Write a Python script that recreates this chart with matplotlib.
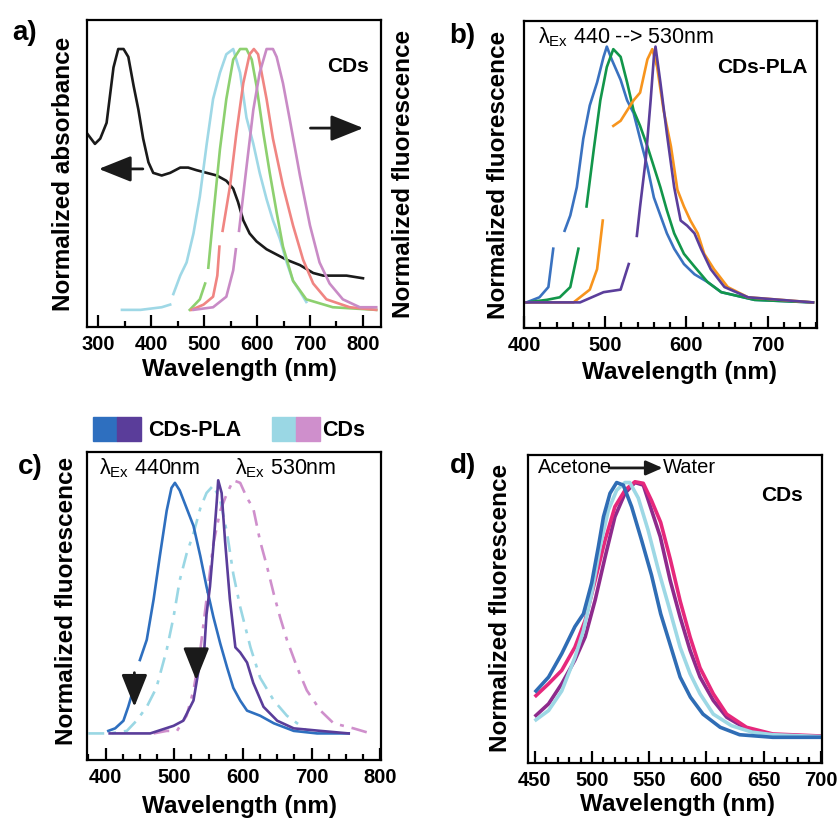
import numpy as np
import matplotlib
matplotlib.use("Agg")
import matplotlib.pyplot as plt
from matplotlib.ticker import MultipleLocator
from matplotlib.patches import Rectangle

plt.rcParams['font.family'] = ['Liberation Sans', 'DejaVu Sans']
plt.rcParams['mathtext.fontset'] = 'custom'
plt.rcParams['mathtext.rm'] = 'Liberation Sans'
plt.rcParams['mathtext.it'] = 'Liberation Sans:italic'

nan = np.nan

# ---- panel a: CDs absorbance + fluorescence
abs_nm = [279, 294, 304, 316, 329, 338, 348, 357, 367, 376, 385, 395, 404, 420, 436, 455, 470, 486,
          505, 524, 542, 555, 564, 574, 586, 599, 618, 637, 656, 681, 706, 725, 743, 769, 800]
abs_val = [0.67, 0.63, 0.65, 0.71, 0.92, 0.99, 0.99, 0.96, 0.85, 0.76, 0.65, 0.56, 0.52, 0.51, 0.52,
           0.54, 0.54, 0.53, 0.52, 0.51, 0.49, 0.46, 0.41, 0.34, 0.29, 0.26, 0.23, 0.21, 0.19, 0.17,
           0.14, 0.13, 0.13, 0.13, 0.12]

a_cyan_nm = [345, 380, 420, 436, nan, 442, 455, 467, 480, 492, 505, 517, 530, 542, 555, 568, 580,
             593, 605, 618, 630, 643, 656, 668, 681, 693]
a_cyan_val = [0.0, 0.0, 0.01, 0.02, nan, 0.06, 0.13, 0.18, 0.29, 0.43, 0.63, 0.80, 0.90, 0.97, 0.99,
              0.90, 0.73, 0.63, 0.52, 0.42, 0.34, 0.27, 0.18, 0.11, 0.07, 0.03]

a_green_nm = [473, 492, 502, nan, 508, 517, 530, 542, 555, 568, 580, 590, 599, 612, 624, 637, 649,
              668, 693, 743, 825]
a_green_val = [0.0, 0.04, 0.10, nan, 0.16, 0.35, 0.61, 0.80, 0.95, 0.99, 0.99, 0.95, 0.85, 0.67,
               0.52, 0.37, 0.24, 0.11, 0.04, 0.01, 0.0]

a_red_nm = [476, 499, 517, 525, 529, nan, 535, 549, 561, 574, 586, 594, 602, 618, 630, 649, 668, 687,
            706, 731, 775, 825]
a_red_val = [0.0, 0.02, 0.05, 0.13, 0.24, nan, 0.30, 0.47, 0.67, 0.86, 0.97, 0.99, 0.97, 0.80, 0.65,
             0.47, 0.32, 0.19, 0.10, 0.04, 0.01, 0.0]

a_mag_nm = [480, 517, 542, 555, 560, nan, 566, 580, 593, 605, 618, 630, 637, 649, 662, 681, 700, 718,
            737, 762, 794, 825]
a_mag_val = [0.0, 0.01, 0.05, 0.15, 0.23, nan, 0.30, 0.54, 0.76, 0.90, 0.99, 0.99, 0.96, 0.86, 0.72,
             0.51, 0.32, 0.18, 0.10, 0.04, 0.01, 0.01]

# ---- panel b: CDs-PLA, excitation 440 -> 530 nm
b_blue_nm = [403, 419, 430, 436, nan, 450, 457, 465, 473, 481, 490, 498, 502, 508, 519, 527, 535, 543,
             552, 560, 568, 576, 585, 597, 610, 626, 643, 684, 756]
b_blue_val = [0.0, 0.02, 0.06, 0.21, nan, 0.28, 0.34, 0.45, 0.64, 0.77, 0.86, 0.96, 1.0, 0.95, 0.87,
              0.79, 0.74, 0.64, 0.53, 0.41, 0.34, 0.27, 0.21, 0.15, 0.11, 0.08, 0.04, 0.01, 0.0]

b_green_nm = [403, 428, 444, 457, 467, nan, 477, 486, 494, 502, 510, 519, 527, 535, 543, 552, 560,
              568, 576, 585, 597, 610, 626, 643, 684, 756]
b_green_val = [0.0, 0.01, 0.02, 0.06, 0.21, nan, 0.375, 0.60, 0.79, 0.92, 0.99, 0.96, 0.86, 0.75,
               0.69, 0.61, 0.53, 0.45, 0.36, 0.27, 0.19, 0.14, 0.08, 0.04, 0.01, 0.0]

b_orange_nm = [403, 461, 469, 481, 490, 497, nan, 510, 519, 527, 535, 543, 552, 558, 564, 572, 581,
               589, 597, 605, 614, 622, 634, 651, 676, 756]
b_orange_val = [0.0, 0.0, 0.02, 0.05, 0.13, 0.32, nan, 0.69, 0.71, 0.75, 0.79, 0.82, 0.95, 0.99, 0.92,
                0.75, 0.61, 0.44, 0.375, 0.32, 0.27, 0.19, 0.13, 0.06, 0.02, 0.0]

b_purple_nm = [403, 469, 498, 519, 529, nan, 539, 543, 550, 556, 560, 562, 568, 576, 585, 593, 601,
               610, 618, 630, 647, 676, 756]
b_purple_val = [0.0, 0.0, 0.04, 0.05, 0.15, nan, 0.26, 0.375, 0.56, 0.79, 0.96, 1.0, 0.86, 0.66, 0.45,
                0.32, 0.30, 0.27, 0.21, 0.13, 0.06, 0.02, 0.0]

# ---- panel c: CDs-PLA vs CDs at 440 and 530 nm excitation
c_pla440_nm = [404, 414, 426, 433, 439, nan, 450, 460, 470, 479, 489, 496, 501, 508, 518, 528, 538,
               547, 557, 567, 577, 586, 596, 606, 625, 645, 674, 708, 754]
c_pla440_val = [0.01, 0.02, 0.05, 0.105, 0.16, nan, 0.29, 0.37, 0.53, 0.70, 0.88, 0.97, 0.99, 0.96,
                0.89, 0.82, 0.70, 0.58, 0.46, 0.355, 0.26, 0.18, 0.13, 0.09, 0.07, 0.04, 0.01, 0.0, 0.0]

c_pla530_nm = [406, 465, 499, 513, 528, 538, 543, 547, 552, 557, 562, 564, 569, 574, 581, 589, 596,
               606, 615, 630, 650, 674, 713, 754]
c_pla530_val = [0.0, 0.0, 0.03, 0.05, 0.13, 0.29, 0.30, 0.47, 0.58, 0.74, 0.92, 1.0, 0.95, 0.76, 0.53,
                0.34, 0.32, 0.28, 0.20, 0.105, 0.05, 0.02, 0.01, 0.0]

c_cd440_nm = [375, 406, 431, 445, 460, 474, 489, 499, 508, 518, 528, 538, 547, 557, 567, 577, 586,
              596, 611, 625, 645, 664, 684, 693]
c_cd440_val = [0.0, 0.0, 0.01, 0.05, 0.105, 0.18, 0.33, 0.46, 0.605, 0.71, 0.79, 0.89, 0.95, 0.98,
               0.92, 0.79, 0.63, 0.50, 0.34, 0.22, 0.13, 0.07, 0.03, 0.01]

c_cd530_nm = [470, 489, 504, 518, 528, 538, 547, 557, 567, 577, 586, 596, 606, 615, 625, 635, 645,
              654, 664, 679, 693, 713, 732, 761, 786]
c_cd530_val = [0.0, 0.01, 0.01, 0.07, 0.17, 0.33, 0.53, 0.75, 0.88, 0.95, 1.0, 0.99, 0.93, 0.89, 0.76,
               0.66, 0.55, 0.46, 0.37, 0.26, 0.17, 0.09, 0.04, 0.02, 0.0]

# ---- panel d: CDs in solvents, acetone -> water
d_nm_blue = [451, 462, 473.5, 485, 492.5, 499.7, 505.5, 510, 515.7, 521.5, 527.3, 534.6, 543.3, 552,
             560, 569, 577, 586, 597, 612, 629, 658, 700]
d_val_blue = [0.18, 0.234, 0.325, 0.43, 0.48, 0.60, 0.74, 0.857, 0.948, 0.99, 0.98, 0.896, 0.766,
              0.63, 0.48, 0.35, 0.234, 0.156, 0.09, 0.039, 0.01, 0.0, 0.0]

d_nm_pink = [451, 462, 473.5, 485, 494, 502.7, 511.4, 520, 528.8, 537.5, 544.8, 552, 560, 568.5, 577,
             585.7, 594.4, 606, 617.7, 635, 658, 700]
d_val_pink = [0.162, 0.208, 0.26, 0.35, 0.455, 0.61, 0.766, 0.896, 0.96, 0.993, 0.987, 0.92, 0.835,
              0.69, 0.53, 0.39, 0.27, 0.169, 0.09, 0.039, 0.013, 0.005]

d_nm_purple = [451, 462, 473.5, 485, 494, 502.7, 511.4, 520, 528.8, 537.5, 544.8, 551, 559.6, 568.3,
               577, 585.7, 594.4, 606, 617.7, 635, 658, 700]
d_val_purple = [0.085, 0.13, 0.208, 0.30, 0.39, 0.533, 0.70, 0.857, 0.948, 0.99, 0.98, 0.896, 0.78,
                0.61, 0.467, 0.338, 0.234, 0.143, 0.078, 0.033, 0.01, 0.003]

d_nm_cyan = [451, 462, 473.5, 485, 492.5, 499.7, 507, 514.3, 521.5, 528.8, 533, 540.4, 549, 558,
             567, 577, 585.7, 594.4, 606, 622, 640, 658, 700]
d_val_cyan = [0.068, 0.104, 0.18, 0.31, 0.415, 0.56, 0.74, 0.883, 0.96, 0.99, 0.99, 0.93, 0.805, 0.65,
              0.51, 0.35, 0.247, 0.169, 0.09, 0.045, 0.02, 0.01, 0.003]

fig = plt.figure(figsize=(8.39, 8.21), dpi=100)
axA = fig.add_axes([0.1037, 0.6017, 0.3504, 0.3739])
axB = fig.add_axes([0.6246, 0.6005, 0.3492, 0.3739])
axC = fig.add_axes([0.1037, 0.0743, 0.3504, 0.3752])
axD = fig.add_axes([0.6293, 0.0706, 0.3504, 0.3752])


def style(ax, xlim, ylim, major, minor):
    ax.set_xlim(*xlim)
    ax.set_ylim(*ylim)
    ax.xaxis.set_major_locator(MultipleLocator(major))
    ax.xaxis.set_minor_locator(MultipleLocator(minor))
    ax.set_yticks([])
    ax.tick_params(axis='x', which='major', direction='in', length=9, width=1.6, pad=6,
                   labelsize=14.5)
    ax.tick_params(axis='x', which='minor', direction='in', length=4.5, width=1.6)
    for lab in ax.get_xticklabels():
        lab.set_fontweight('bold')
    for s in ax.spines.values():
        s.set_linewidth(1.6)
    ax.set_xlabel('Wavelength (nm)', fontsize=17.5, fontweight='bold')


lw = 1.9
# a
axA.plot(abs_nm, abs_val, color='#1a1a1a', lw=lw)
axA.plot(a_cyan_nm, a_cyan_val, color='#9fd8e6', lw=lw)
axA.plot(a_green_nm, a_green_val, color='#8dd06f', lw=lw)
axA.plot(a_red_nm, a_red_val, color='#f08582', lw=lw)
axA.plot(a_mag_nm, a_mag_val, color='#c98bc6', lw=lw)
style(axA, (279, 834), (-0.065, 1.10), 100, 50)
axA.set_ylabel('Normalized absorbance', fontsize=17.5, fontweight='bold')
axA.yaxis.set_label_coords(-0.041, 0.5)
axA.xaxis.set_label_coords(0.52, -0.10)
axA.text(1.075, 0.5, 'Normalized fluorescence', transform=axA.transAxes, rotation=90,
         ha='center', va='center', fontsize=17.5, fontweight='bold')
axA.text(0.888, 0.847, 'CDs', transform=axA.transAxes, ha='center', va='center',
         fontsize=15, fontweight='bold')
axA.annotate('', xy=(0.94, 0.648), xytext=(0.76, 0.648), xycoords='axes fraction',
             arrowprops=dict(arrowstyle='-|>,head_length=1.0,head_width=0.4', color='#1a1a1a',
                             lw=2, mutation_scale=20, shrinkA=0, shrinkB=0))
axA.annotate('', xy=(0.04, 0.515), xytext=(0.19, 0.515), xycoords='axes fraction',
             arrowprops=dict(arrowstyle='-|>,head_length=1.0,head_width=0.4', color='#1a1a1a',
                             lw=2, mutation_scale=20, shrinkA=0, shrinkB=0))
axA.text(-0.255, 1.0, 'a)', transform=axA.transAxes, ha='left', va='top',
         fontsize=20, fontweight='bold')

# b
axB.plot(b_blue_nm, b_blue_val, color='#3a72c0', lw=lw)
axB.plot(b_green_nm, b_green_val, color='#12964a', lw=lw)
axB.plot(b_orange_nm, b_orange_val, color='#f7941d', lw=lw)
axB.plot(b_purple_nm, b_purple_val, color='#5b3e9b', lw=lw)
style(axB, (400, 761), (-0.10, 1.10), 100, 20)
axB.set_ylabel('Normalized fluorescence', fontsize=17.5, fontweight='bold')
axB.yaxis.set_label_coords(-0.048, 0.5)
axB.xaxis.set_label_coords(0.53, -0.107)
axB.text(0.048, 0.985, 'λ$_{\\mathrm{Ex}}$ 440 --> 530nm', transform=axB.transAxes,
         ha='left', va='top', fontsize=15.5)
axB.text(0.969, 0.85, 'CDs-PLA', transform=axB.transAxes, ha='right', va='center',
         fontsize=15, fontweight='bold')
axB.text(-0.255, 0.995, 'b)', transform=axB.transAxes, ha='left', va='top',
         fontsize=20, fontweight='bold')

# c
axC.plot(c_cd440_nm, c_cd440_val, color='#9ad7e4', lw=lw, ls=(0, (6, 3, 1.5, 3)))
axC.plot(c_cd530_nm, c_cd530_val, color='#cf8fcc', lw=lw, ls=(0, (6, 3, 1.5, 3)))
axC.plot(c_pla440_nm, c_pla440_val, color='#2e6fbf', lw=lw)
axC.plot(c_pla530_nm, c_pla530_val, color='#5a3d9a', lw=lw)
style(axC, (373, 801), (-0.105, 1.112), 100, 25)
axC.set_ylabel('Normalized fluorescence', fontsize=17.5, fontweight='bold')
axC.yaxis.set_label_coords(-0.031, 0.516)
axC.xaxis.set_label_coords(0.52, -0.114)
axC.text(0.04, 0.985, 'λ$_{\\mathrm{Ex}}$ 440nm', transform=axC.transAxes,
         ha='left', va='top', fontsize=15.5)
axC.text(0.503, 0.985, 'λ$_{\\mathrm{Ex}}$ 530nm', transform=axC.transAxes,
         ha='left', va='top', fontsize=15.5)
for x0, y0, y1 in [(442, 0.24, 0.105), (532, 0.32, 0.21)]:
    axC.annotate('', xy=(x0, y1), xytext=(x0, y0),
                 arrowprops=dict(arrowstyle='-|>,head_length=1.0,head_width=0.4',
                                 color='#1a1a1a', lw=2, mutation_scale=20, shrinkA=0, shrinkB=0))
axC.text(-0.235, 0.995, 'c)', transform=axC.transAxes, ha='left', va='top',
         fontsize=20, fontweight='bold')
# colour-swatch legend above panel c
swatches = [(93, '#2e6fbf'), (117, '#5a3d9a'), (272, '#9ad7e4'), (296, '#cf8fcc')]
for px, col in swatches:
    fig.patches.append(Rectangle((px / 839, 1 - 441 / 821), 24 / 839, 24 / 821,
                                 transform=fig.transFigure, color=col))
fig.text(148 / 839, 1 - 430 / 821, 'CDs-PLA', ha='left', va='center', fontsize=15.5,
         fontweight='bold')
fig.text(322 / 839, 1 - 430 / 821, 'CDs', ha='left', va='center', fontsize=15.5,
         fontweight='bold')

# d
lwd = 2.6
axD.plot(d_nm_purple, d_val_purple, color='#8e2a8c', lw=lwd)
axD.plot(d_nm_pink, d_val_pink, color='#e6287c', lw=lwd)
axD.plot(d_nm_cyan, d_val_cyan, color='#9dd8e5', lw=lwd)
axD.plot(d_nm_blue, d_val_blue, color='#2f6db5', lw=lwd)
style(axD, (444, 701), (-0.10, 1.097), 50, 10)
axD.set_ylabel('Normalized fluorescence', fontsize=17.5, fontweight='bold')
axD.yaxis.set_label_coords(-0.054, 0.503)
axD.xaxis.set_label_coords(0.51, -0.097)
axD.text(0.034, 0.958, 'Acetone', transform=axD.transAxes, ha='left', va='center', fontsize=14.5)
axD.text(0.459, 0.958, 'Water', transform=axD.transAxes, ha='left', va='center', fontsize=14.5)
axD.annotate('', xy=(0.458, 0.958), xytext=(0.276, 0.958), xycoords='axes fraction',
             arrowprops=dict(arrowstyle='-|>,head_length=0.5,head_width=0.22', color='#1a1a1a',
                             lw=2, mutation_scale=20, shrinkA=0, shrinkB=0))
axD.text(0.935, 0.867, 'CDs', transform=axD.transAxes, ha='right', va='center',
         fontsize=15, fontweight='bold')
axD.text(-0.265, 1.005, 'd)', transform=axD.transAxes, ha='left', va='top',
         fontsize=20, fontweight='bold')

fig.savefig('out.png', dpi=100)
